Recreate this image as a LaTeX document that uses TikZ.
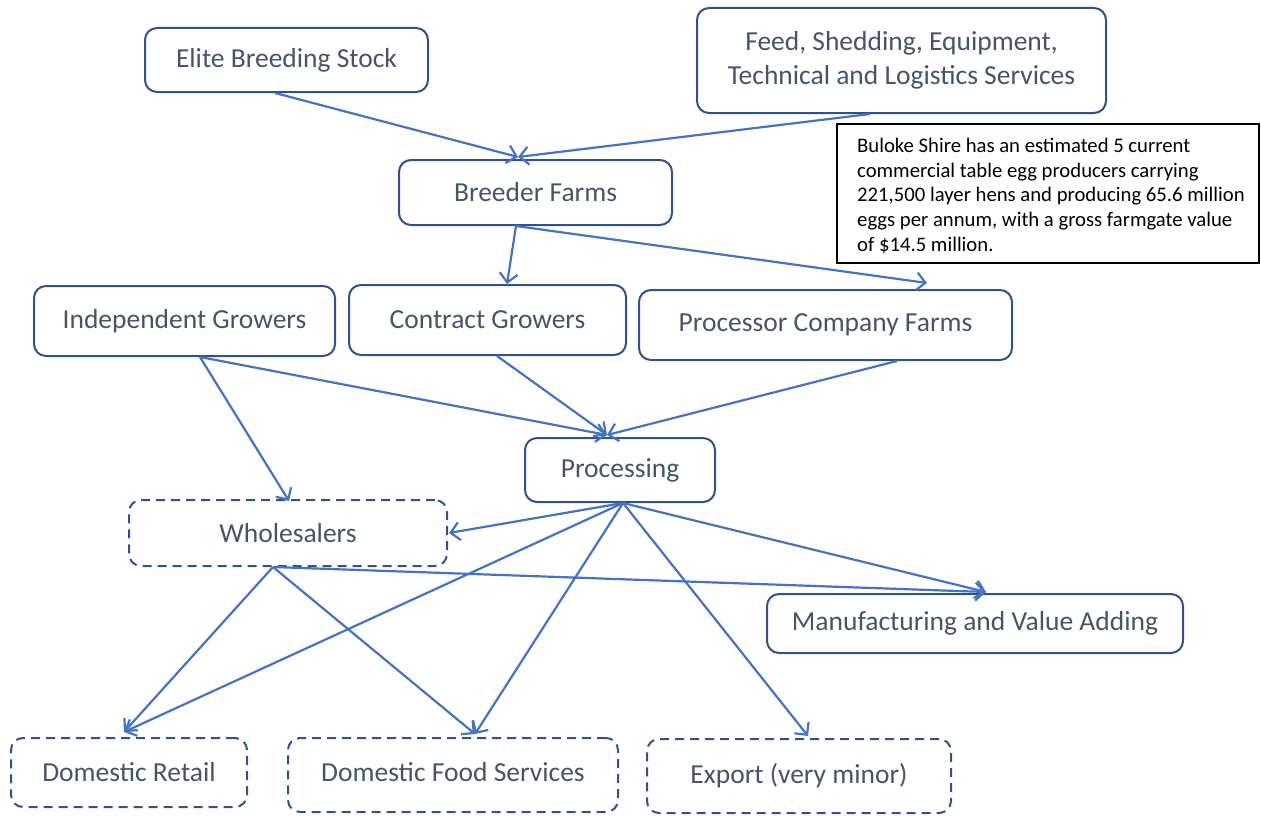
\documentclass[tikz,border=0pt]{standalone}
\usepackage{fontspec}
\setmainfont{Carlito}
\usetikzlibrary{arrows.meta}
\definecolor{boxline}{HTML}{2F528F}
\definecolor{arrowc}{HTML}{4472C4}
\definecolor{txt}{HTML}{44546A}
\tikzset{
  box/.style={draw=boxline, line width=2pt, rounded corners=12pt, text=txt,
    font=\fontsize{27.5}{33}\selectfont, inner sep=0pt, align=center},
  dbox/.style={box, dash pattern=on 9pt off 6pt},
  flow/.style={draw=arrowc, line width=2.2pt,
    -{Straight Barb[length=9pt,width=18pt,line width=2.2pt]}},
}
\begin{document}
\begin{tikzpicture}[x=1pt,y=-1pt]
\useasboundingbox (0,0) rectangle (1261,816);
\node[box, minimum width=283pt, minimum height=64pt] (elite) at (286.5,60) {Elite Breeding Stock};
\node[box, minimum width=409pt, minimum height=105pt, font=\fontsize{27.5}{34}\selectfont] (feed) at (901.5,60.5) {Feed, Shedding, Equipment,\\Technical and Logistics Services};
\node[box, minimum width=273pt, minimum height=65pt] (breeder) at (535.5,192.5) {Breeder Farms};
\node[draw=black, line width=1.5pt, minimum width=422pt, minimum height=139pt, inner sep=0pt] (note) at (1048,193.5) {};
\node[anchor=north west, inner sep=0pt, align=flush left, text width=410pt, font=\fontsize{20.7}{24.7}\selectfont] (notetext) at (857,138) {Buloke Shire has an estimated 5 current\\commercial table egg producers carrying\\221,500 layer hens and producing 65.6 million\\eggs per annum, with a gross farmgate value\\of \$14.5 million.};
\node[box, minimum width=301pt, minimum height=70pt] (indep) at (184.5,321) {Independent Growers};
\node[box, minimum width=277pt, minimum height=70pt] (contract) at (487.5,320) {Contract Growers};
\node[box, minimum width=373pt, minimum height=70pt] (proc) at (825.5,325) {Processor Company Farms};
\node[box, minimum width=190pt, minimum height=64pt] (processing) at (620,470) {Processing};
\node[dbox, minimum width=318pt, minimum height=66pt] (whole) at (288,533) {Wholesalers};
\node[box, minimum width=416pt, minimum height=59pt] (manu) at (975,623.5) {Manufacturing and Value Adding};
\node[dbox, minimum width=236pt, minimum height=69pt] (retail) at (129,772.5) {Domestic Retail};
\node[dbox, minimum width=330pt, minimum height=74pt] (food) at (453,775) {\raisebox{6pt}{Domestic Food Services}};
\node[dbox, minimum width=304pt, minimum height=74pt] (export) at (799,776) {Export (very minor)};

\draw[flow] ([xshift=-11.5pt]elite.south) -- ([xshift=-17.5pt,yshift=2pt]breeder.north);
\draw[flow] ([xshift=-31.5pt]feed.south) -- ([xshift=-17.5pt,yshift=2pt]breeder.north);
\draw[flow] ([xshift=-19.5pt]breeder.south) -- ([xshift=19.5pt]contract.north);
\draw[flow] ([xshift=-19.5pt]breeder.south) -- ([xshift=101.5pt,yshift=6pt]proc.north);
\draw[flow] ([xshift=15.5pt]indep.south) -- ([xshift=1pt,yshift=-2pt]whole.north);
\draw[flow] ([xshift=15.5pt]indep.south) -- ([xshift=-13pt,yshift=2pt]processing.north);
\draw[flow] ([xshift=9.5pt]contract.south) -- ([xshift=-13pt,yshift=2pt]processing.north);
\draw[flow] ([xshift=71.5pt]proc.south) -- ([xshift=-13pt,yshift=2pt]processing.north);
\draw[flow] ([xshift=3pt]processing.south) -- ([xshift=1pt]whole.east);
\draw[flow] ([xshift=3pt]processing.south) -- ([xshift=11pt,yshift=1pt]manu.north);
\draw[flow] ([xshift=3pt]processing.south) -- ([xshift=22pt,yshift=3pt]food.north);
\draw[flow] ([xshift=3pt]processing.south) -- ([xshift=9pt,yshift=2pt]export.north);
\draw[flow] ([xshift=3pt]processing.south) -- ([xshift=-5pt,yshift=5pt]retail.north);
\draw[flow] ([xshift=-15pt]whole.south) -- ([xshift=-5pt,yshift=5pt]retail.north);
\draw[flow] ([xshift=-15pt]whole.south) -- ([xshift=22pt,yshift=3pt]food.north);
\draw[flow] ([xshift=-15pt]whole.south) -- ([xshift=11pt,yshift=1pt]manu.north);
\end{tikzpicture}
\end{document}
